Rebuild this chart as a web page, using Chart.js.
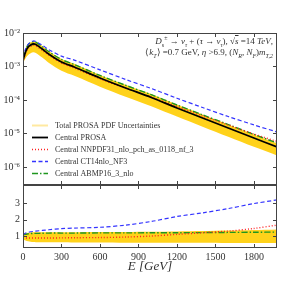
<!DOCTYPE html>
<html>
<head>
<meta charset="utf-8">
<script src="https://cdn.jsdelivr.net/npm/chart.js@4.4.1/dist/chart.umd.min.js"></script>
<style>
  html, body { margin: 0; padding: 0; background: #fff; }
  body { width: 293px; height: 284px; position: relative; overflow: hidden; font-family: 'Liberation Serif', serif; }
  #caixa-espectro { position: absolute; left: 0; top: 0; }
  #caixa-razao { position: absolute; left: 0; top: 180px; }
  .nota { position: absolute; right: 20px; font-size: 9px; color: #333; white-space: nowrap; line-height: 10px; }
  .nota sub, .nota sup { font-size: 6px; line-height: 0; }
</style>
</head>
<body>
<canvas id="caixa-espectro" width="293" height="186"></canvas>
<canvas id="caixa-razao" width="293" height="104"></canvas>
<div class="nota" style="top:36px"><i>D</i><sub>s</sub><sup>±</sup> → <i>ν<sub>τ</sub></i> + (<i>τ</i> → <i>ν<sub>τ</sub></i>), √<span style="text-decoration:overline"><i>s</i></span> =14 <i>TeV</i>,</div>
<div class="nota" style="top:47px">⟨<i>k<sub>T</sub></i>⟩ =0.7 GeV, <i>η</i> &gt;6.9, (<i>N<sub>R</sub></i>, <i>N<sub>F</sub></i>)<i>m<sub>T,2</sub></i></div>
<script>
// Dados
const energias = [0, 20, 40, 60, 80, 100, 150, 200, 300, 400, 600, 800, 1000, 1200, 1400, 1600, 1800, 1980];

const centralProsa = [1.56e-3, 2.71e-3, 3.82e-3, 4.38e-3, 4.70e-3, 4.54e-3, 3.33e-3, 2.36e-3, 1.36e-3, 9.66e-4, 4.54e-4, 2.28e-4, 1.19e-4, 5.77e-5, 2.90e-5, 1.46e-5, 7.34e-6, 3.95e-6];
const centralNnpdf = [1.35e-3, 2.5e-3, 3.5e-3, 4.0e-3, 4.3e-3, 4.15e-3, 3.05e-3, 2.2e-3, 1.27e-3, 9.0e-4, 4.3e-4, 2.25e-4, 1.22e-4, 6.4e-5, 3.35e-5, 1.8e-5, 9.6e-6, 5.8e-6];
const centralCt14 = [1.79e-3, 3.31e-3, 4.58e-3, 5.39e-3, 5.78e-3, 5.54e-3, 4.33e-3, 3.21e-3, 2.04e-3, 1.55e-3, 7.95e-4, 4.10e-4, 2.20e-4, 1.13e-4, 5.95e-5, 3.21e-5, 1.80e-5, 1.11e-5];
const centralAbmp = [1.75e-3, 3.1e-3, 4.5e-3, 5.2e-3, 5.5e-3, 5.3e-3, 3.9e-3, 2.8e-3, 1.62e-3, 1.15e-3, 5.4e-4, 2.75e-4, 1.44e-4, 7.1e-5, 3.6e-5, 1.85e-5, 9.4e-6, 5.2e-6];
const prosaMax = [1.80e-3, 3.2e-3, 4.6e-3, 5.3e-3, 5.7e-3, 5.5e-3, 4.1e-3, 2.9e-3, 1.68e-3, 1.2e-3, 5.6e-4, 2.85e-4, 1.5e-4, 7.3e-5, 3.7e-5, 1.87e-5, 9.4e-6, 5.1e-6];
const prosaMin = [1.25e-3, 1.75e-3, 2.2e-3, 2.5e-3, 2.65e-3, 2.55e-3, 1.85e-3, 1.3e-3, 7.5e-4, 5.3e-4, 2.5e-4, 1.25e-4, 6.5e-5, 3.2e-5, 1.6e-5, 8.0e-6, 4.0e-6, 2.2e-6];

// Razões (painel de baixo)
const razaoNnpdf = [0.92, 0.9, 0.9, 0.9, 0.9, 0.9, 0.9, 0.9, 0.91, 0.92, 0.93, 0.96, 1.02, 1.12, 1.22, 1.32, 1.48, 1.68];
const razaoCt14 = [1.1, 1.2, 1.25, 1.28, 1.3, 1.32, 1.36, 1.4, 1.47, 1.5, 1.55, 1.68, 1.9, 2.2, 2.42, 2.68, 2.98, 3.2];
const razaoAbmp = [1.1, 1.13, 1.15, 1.17, 1.18, 1.18, 1.19, 1.2, 1.2, 1.2, 1.21, 1.21, 1.22, 1.22, 1.23, 1.24, 1.25, 1.26];
const razaoMax = [1.15, 1.2, 1.22, 1.24, 1.25, 1.25, 1.25, 1.25, 1.25, 1.25, 1.26, 1.27, 1.28, 1.3, 1.32, 1.35, 1.38, 1.42];
const razaoMin = [0.82, 0.75, 0.7, 0.68, 0.66, 0.65, 0.65, 0.64, 0.64, 0.63, 0.63, 0.62, 0.62, 0.61, 0.61, 0.6, 0.6, 0.6];

const ticksX = [0, 300, 600, 900, 1200, 1500, 1800];
const ticksLog = [1e-6, 1e-5, 1e-4, 1e-3, 1e-2];
const ticksRazao = [1, 2, 3];

const fonte = 'Liberation Serif';
const corEixo = '#444';
const expoentes = { '-': '⁻', '0': '⁰', '1': '¹', '2': '²', '3': '³', '4': '⁴', '5': '⁵', '6': '⁶', '7': '⁷', '8': '⁸', '9': '⁹' };

function pontos(valores) {
  return energias.map((e, i) => ({ x: e, y: valores[i] }));
}

function potencia(v) {
  const exp = String(Math.round(Math.log10(v)));
  return '10' + exp.split('').map(c => expoentes[c]).join('');
}

// eixo y com largura fixa e sem folga extra em cima/baixo
function fixarEixoY(s) {
  s.width = 23;
  s.paddingTop = 0;
  s.paddingBottom = 0;
}

// Moldura com ticks para dentro
const moldura = {
  id: 'moldura',
  afterDatasetsDraw(chart) {
    const { ctx, chartArea: a, scales } = chart;
    ctx.save();
    ctx.strokeStyle = corEixo;
    ctx.lineWidth = 1;
    ctx.setLineDash([]);
    ctx.strokeRect(a.left + 0.5, a.top + 0.5, a.width - 1, a.height - 1);
    ctx.beginPath();
    scales.x.ticks.forEach(t => {
      const px = Math.round(scales.x.getPixelForValue(t.value)) + 0.5;
      ctx.moveTo(px, a.bottom); ctx.lineTo(px, a.bottom - 4);
      ctx.moveTo(px, a.top); ctx.lineTo(px, a.top + 4);
    });
    scales.y.ticks.forEach(t => {
      const py = Math.round(scales.y.getPixelForValue(t.value)) + 0.5;
      ctx.moveTo(a.left, py); ctx.lineTo(a.left + 4, py);
      ctx.moveTo(a.right, py); ctx.lineTo(a.right - 4, py);
    });
    ctx.stroke();
    ctx.restore();
  }
};

// Legenda desenhada dentro do painel
const legenda = {
  id: 'legenda',
  afterDraw(chart) {
    const ctx = chart.ctx;
    const itens = chart.data.datasets.filter(d => d.label);
    ctx.save();
    ctx.font = '8px "' + fonte + '"';
    ctx.textBaseline = 'middle';
    itens.forEach((d, i) => {
      const y = 125.5 + i * 12;
      ctx.strokeStyle = d.corLegenda || d.borderColor;
      ctx.lineWidth = d.larguraLegenda || Math.max(d.borderWidth, 1.5);
      ctx.setLineDash(d.borderDash || []);
      ctx.beginPath();
      ctx.moveTo(32, y);
      ctx.lineTo(48, y);
      ctx.stroke();
      ctx.fillStyle = '#333';
      ctx.fillText(d.label, 55, y);
    });
    ctx.restore();
  }
};

const linhaBase = { pointRadius: 0, fill: false, tension: 0.3 };

new Chart(document.getElementById('caixa-espectro'), {
  type: 'line',
  data: {
    datasets: [
      { ...linhaBase, label: 'Total PROSA PDF Uncertainties', data: pontos(prosaMax), borderWidth: 0, borderColor: '#ffd21a',
        corLegenda: '#ffe9a0', larguraLegenda: 2, backgroundColor: '#ffd21a', fill: '+1', order: 9 },
      { ...linhaBase, label: '', data: pontos(prosaMin), borderWidth: 0, borderColor: '#ffd21a', order: 10 },
      { ...linhaBase, label: 'Central PROSA', data: pontos(centralProsa), borderColor: '#000', borderWidth: 1.8, order: 1 },
      { ...linhaBase, label: 'Central NNPDF31_nlo_pch_as_0118_nf_3', data: pontos(centralNnpdf), borderColor: '#ff2020', borderWidth: 1.4, borderDash: [1, 2], order: 2 },
      { ...linhaBase, label: 'Central CT14nlo_NF3', data: pontos(centralCt14), borderColor: '#3434ff', borderWidth: 1.2, borderDash: [4, 2.5], order: 3 },
      { ...linhaBase, label: 'Central ABMP16_3_nlo', data: pontos(centralAbmp), borderColor: '#1f961f', borderWidth: 1.4, borderDash: [6, 2, 1.5, 2], order: 4 }
    ]
  },
  options: {
    responsive: false,
    animation: false,
    layout: { padding: { top: 33, right: 16, bottom: 1, left: 0 } },
    plugins: { legend: { display: false }, tooltip: { enabled: false } },
    scales: {
      x: {
        type: 'linear', min: 0, max: 1980,
        grid: { display: false, drawTicks: false }, border: { display: false },
        ticks: { display: false },
        afterBuildTicks: s => { s.ticks = ticksX.map(v => ({ value: v })); },
        afterFit: s => { s.height = 0; s.paddingLeft = 0; s.paddingRight = 0; }
      },
      y: {
        type: 'logarithmic', min: 2.9e-7, max: 1e-2,
        grid: { display: false, drawTicks: false }, border: { display: false },
        ticks: { color: '#333', padding: 3, font: { family: fonte, size: 10 }, callback: v => potencia(v) },
        afterBuildTicks: s => { s.ticks = ticksLog.map(v => ({ value: v })); },
        afterFit: fixarEixoY
      }
    }
  },
  plugins: [moldura, legenda]
});

new Chart(document.getElementById('caixa-razao'), {
  type: 'line',
  data: {
    datasets: [
      { ...linhaBase, data: pontos(razaoMax), borderWidth: 0, backgroundColor: '#ffd21a', fill: '+1', order: 9 },
      { ...linhaBase, data: pontos(razaoMin), borderWidth: 0, order: 10 },
      { ...linhaBase, data: pontos(razaoNnpdf), borderColor: '#ff2020', borderWidth: 1.4, borderDash: [1, 2], order: 2 },
      { ...linhaBase, data: pontos(razaoCt14), borderColor: '#3434ff', borderWidth: 1.2, borderDash: [4, 2.5], order: 3 },
      { ...linhaBase, data: pontos(razaoAbmp), borderColor: '#1f961f', borderWidth: 1.4, borderDash: [6, 2, 1.5, 2], order: 4 }
    ]
  },
  options: {
    responsive: false,
    animation: false,
    layout: { padding: { top: 5, right: 16, bottom: 10, left: 0 } },
    plugins: { legend: { display: false }, tooltip: { enabled: false } },
    scales: {
      x: {
        type: 'linear', min: 0, max: 1980,
        grid: { display: false, drawTicks: false }, border: { display: false },
        ticks: { color: '#333', padding: 3, maxRotation: 0, font: { family: fonte, size: 10 }, callback: v => String(v) },
        title: { display: true, text: 'E [GeV]', color: '#333', padding: 0, font: { family: fonte, size: 13, style: 'italic' } },
        afterBuildTicks: s => { s.ticks = ticksX.map(v => ({ value: v })); },
        afterFit: s => { s.height = 26; s.paddingLeft = 0; s.paddingRight = 0; }
      },
      y: {
        type: 'linear', min: 0.3, max: 4.1,
        grid: { display: false, drawTicks: false }, border: { display: false },
        ticks: { color: '#333', padding: 3, font: { family: fonte, size: 10 } },
        afterBuildTicks: s => { s.ticks = ticksRazao.map(v => ({ value: v })); },
        afterFit: fixarEixoY
      }
    }
  },
  plugins: [moldura]
});
</script>
</body>
</html>
